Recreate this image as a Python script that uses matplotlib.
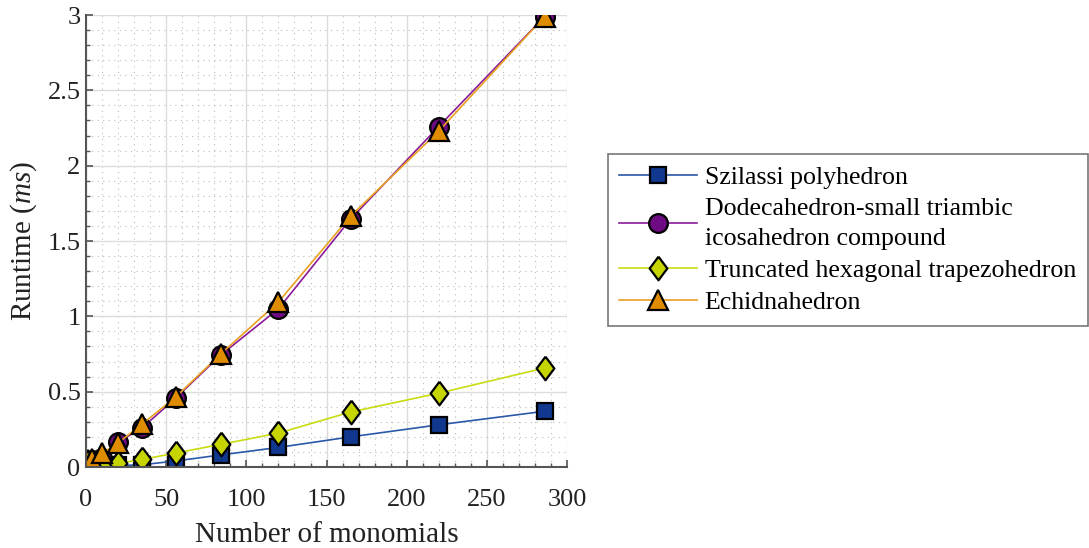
import matplotlib
matplotlib.use('Agg')
import matplotlib.pyplot as plt
from matplotlib.ticker import MultipleLocator

plt.rcParams['font.family'] = ['Liberation Serif', 'DejaVu Serif']
plt.rcParams['mathtext.fontset'] = 'custom'
plt.rcParams['mathtext.rm'] = 'Liberation Serif'
plt.rcParams['mathtext.it'] = 'Liberation Serif:italic'

# number of monomials
monomials = [1, 4, 10, 20, 35, 56, 84, 120, 165, 220, 286]

# runtimes in ms
szilassi = [0.001, 0.002, 0.005, 0.01, 0.015, 0.04, 0.08, 0.13, 0.20, 0.28, 0.37]
dodeca = [0.04, 0.045, 0.06, 0.165, 0.26, 0.458, 0.743, 1.05, 1.645, 2.26, 2.99]
truncated = [0.002, 0.005, 0.01, 0.025, 0.05, 0.093, 0.15, 0.225, 0.365, 0.49, 0.657]
echidna = [0.045, 0.055, 0.09, 0.16, 0.285, 0.465, 0.75, 1.095, 1.665, 2.23, 2.99]

labels = ['Szilassi polyhedron',
          'Dodecahedron-small triambic\nicosahedron compound',
          'Truncated hexagonal trapezohedron',
          'Echidnahedron']

# matlab style diamond, a bit taller than wide
diamond = [(0, 1), (0.75, 0), (0, -1), (-0.75, 0), (0, 1)]

fig = plt.figure(figsize=(10.89, 5.48), dpi=100)
ax = fig.add_axes([0.079, 0.1478, 0.4417, 0.8248])

ax.plot(monomials, szilassi, '-s', color='#2a58a8', lw=1.2, ms=11.5,
        mfc='#10388f', mec='black', mew=1.6, label=labels[0])
ax.plot(monomials, dodeca, '-o', color='#8a1a9a', lw=1.2, ms=13.5,
        mfc='#6e0a82', mec='black', mew=1.6, label=labels[1])
ax.plot(monomials, truncated, '-', marker=diamond, color='#c8dc10', lw=1.2, ms=17,
        mfc='#c6d400', mec='black', mew=1.6, label=labels[2])
ax.plot(monomials, echidna, '-^', color='#e8a020', lw=1.2, ms=14.5,
        mfc='#e08c00', mec='black', mew=1.6, label=labels[3])

ax.set_xlim(0, 300)
ax.set_ylim(0, 3)
ax.xaxis.set_major_locator(MultipleLocator(50))
ax.xaxis.set_minor_locator(MultipleLocator(10))
ax.yaxis.set_major_locator(MultipleLocator(0.5))
ax.yaxis.set_minor_locator(MultipleLocator(0.1))
ax.yaxis.set_major_formatter(plt.FuncFormatter(lambda v, p: '%g' % v))

ax.grid(which='major', color='#dcdcdc', lw=1.0, ls='-')
ax.grid(which='minor', color='#bbbbbb', lw=0.8, ls=(0, (1, 4)))
ax.set_axisbelow(True)

for s in ['top', 'right']:
    ax.spines[s].set_visible(False)
for s in ['left', 'bottom']:
    ax.spines[s].set_color('#555555')
    ax.spines[s].set_linewidth(1.5)

ax.tick_params(which='both', direction='in', colors='#555555', labelcolor='#222222',
               labelsize=19)
ax.tick_params(which='major', length=5, width=1.2)
ax.tick_params(which='minor', length=3, width=1.0)
ax.tick_params(axis='x', pad=16)
ax.tick_params(axis='y', pad=4)

ax.set_xlabel('Number of monomials', fontsize=21, color='#222222', labelpad=8)
ax.set_ylabel(r'Runtime ($ms$)', fontsize=21, color='#222222', labelpad=6)

leg = fig.legend(loc='center left', bbox_to_anchor=(0.558, 0.562), fontsize=18.6,
                 frameon=True, fancybox=False, edgecolor='#555555',
                 handlelength=3.0, handletextpad=0.3, borderpad=0.45,
                 labelspacing=0.36, borderaxespad=0)
leg.get_frame().set_linewidth(1.2)
for t in leg.get_texts():
    t.set_linespacing(1.45)

fig.savefig('out.png', dpi=100)
